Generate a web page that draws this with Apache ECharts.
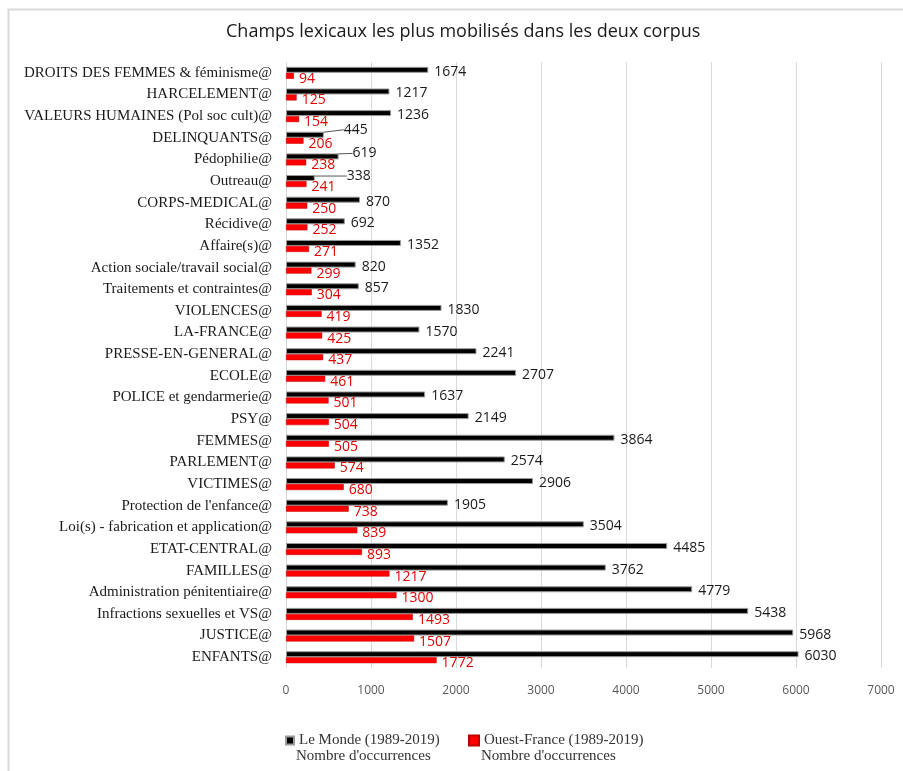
<!DOCTYPE html>
<html>
<head>
<meta charset="utf-8">
<script src="https://cdn.jsdelivr.net/npm/echarts@6/dist/echarts.min.js"></script>
<style>
  html, body { margin: 0; padding: 0; background: #fff; }
  #chart { width: 903px; height: 771px; }
</style>
</head>
<body>
<div id="chart"></div>
<script>
var categories = [
    'DROITS DES FEMMES & féminisme@', 'HARCELEMENT@', 'VALEURS HUMAINES (Pol soc cult)@',
    'DELINQUANTS@', 'Pédophilie@', 'Outreau@', 'CORPS-MEDICAL@', 'Récidive@', 'Affaire(s)@',
    'Action sociale/travail social@', 'Traitements et contraintes@', 'VIOLENCES@', 'LA-FRANCE@',
    'PRESSE-EN-GENERAL@', 'ECOLE@', 'POLICE et gendarmerie@', 'PSY@', 'FEMMES@', 'PARLEMENT@',
    'VICTIMES@', "Protection de l'enfance@", 'Loi(s) - fabrication et application@',
    'ETAT-CENTRAL@', 'FAMILLES@', 'Administration pénitentiaire@', 'Infractions sexuelles et VS@',
    'JUSTICE@', 'ENFANTS@'
]
var leMonde = [1674, 1217, 1236, 445, 619, 338, 870, 692, 1352, 820, 857, 1830, 1570, 2241,
    2707, 1637, 2149, 3864, 2574, 2906, 1905, 3504, 4485, 3762, 4779, 5438, 5968, 6030]
var ouestFrance = [94, 125, 154, 206, 238, 241, 250, 252, 271, 299, 304, 419, 425, 437,
    461, 501, 504, 505, 574, 680, 738, 839, 893, 1217, 1300, 1493, 1507, 1772]
var xTicks = [0, 1000, 2000, 3000, 4000, 5000, 6000, 7000]
var seriesNames = ['Le Monde (1989-2019)', 'Ouest-France (1989-2019)']
var subLabel = "Nombre d'occurrences"
var titleText = 'Champs lexicaux les plus mobilisés dans les deux corpus'

// labels that Excel pushed aside with a leader line
var movedLabels = { 3: [14, -5], 4: [8, -3], 5: [26, -2] }

var chart = echarts.init(document.getElementById('chart'))

var leMondeData = leMonde.map(function (v, i) {
    return { value: v, labelLine: { show: !!movedLabels[i] } }
})

var option = {
    backgroundColor: '#fff',
    animation: false,
    title: {
        text: titleText,
        left: 226,
        top: 23,
        padding: 0,
        textStyle: { fontFamily: 'Open Sans', fontSize: 18, fontWeight: 'normal', color: '#1a1a1a' }
    },
    graphic: [
        { type: 'rect', shape: { x: 8.5, y: 9.5, width: 900, height: 800 },
          style: { fill: 'none', stroke: '#d9d9d9', lineWidth: 2 }, silent: true },
        { type: 'text', left: 296, top: 749,
          style: { text: subLabel, font: '15px "Liberation Serif"', fill: '#333' } },
        { type: 'text', left: 481, top: 749,
          style: { text: subLabel, font: '15px "Liberation Serif"', fill: '#333' } }
    ],
    legend: [
        { data: [seriesNames[0]], left: 285, top: 733, padding: 0, itemWidth: 8, itemHeight: 8, itemGap: 4,
          icon: 'rect', textStyle: { fontFamily: 'Liberation Serif', fontSize: 15, color: '#333' } },
        { data: [seriesNames[1]], left: 468, top: 733, padding: 0, itemWidth: 10, itemHeight: 10, itemGap: 3,
          icon: 'rect', textStyle: { fontFamily: 'Liberation Serif', fontSize: 15, color: '#333' } }
    ],
    grid: { left: 286, right: 22, top: 62, bottom: 103, containLabel: false },
    xAxis: {
        type: 'value',
        min: xTicks[0],
        max: xTicks[xTicks.length - 1],
        interval: 1000,
        axisLine: { show: false },
        axisTick: { show: false },
        splitLine: { lineStyle: { color: '#d9d9d9', width: 1 } },
        axisLabel: { color: '#595959', fontFamily: 'Open Sans', fontSize: 12, margin: 17,
            formatter: function (v) { return String(v) } }
    },
    yAxis: {
        type: 'category',
        data: categories,
        inverse: true,
        axisLine: { show: false },
        axisTick: { show: false },
        axisLabel: { color: '#1a1a1a', fontFamily: 'Liberation Serif', fontSize: 15, margin: 14 }
    },
    series: [
        {
            name: seriesNames[0],
            type: 'bar',
            data: leMondeData,
            barWidth: 6,
            barGap: '0%',
            itemStyle: { color: '#000', borderColor: '#9a9a9a', borderWidth: 1 },
            label: {
                show: true, position: 'right', distance: 6,
                color: '#1a1a1a', fontFamily: 'Open Sans', fontSize: 14
            },
            labelLine: { show: false, lineStyle: { color: '#555', width: 1 } },
            labelLayout: function (p) {
                var m = movedLabels[p.dataIndex]
                if (m) return { dx: m[0], dy: m[1] }
                return { dy: 2 }
            }
        },
        {
            name: seriesNames[1],
            type: 'bar',
            data: ouestFrance,
            barWidth: 6,
            itemStyle: { color: '#ff0000', borderColor: '#c00000', borderWidth: 0.5 },
            label: {
                show: true, position: 'right', distance: 5, offset: [0, 3],
                color: '#e00000', fontFamily: 'Open Sans', fontSize: 14
            }
        }
    ]
}
chart.setOption(option)
</script>
</body>
</html>
